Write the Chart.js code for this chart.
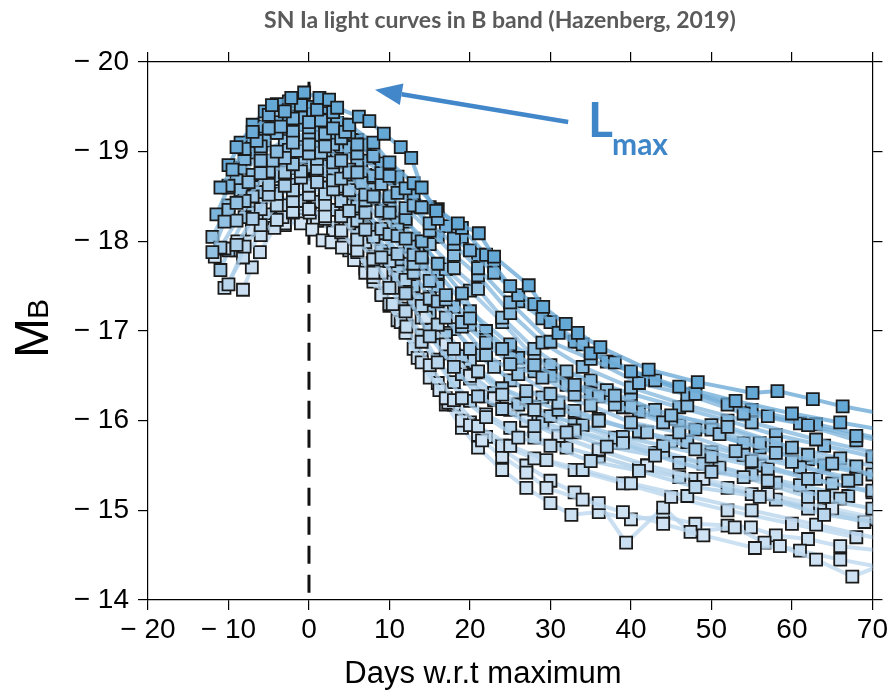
<!DOCTYPE html>
<html>
<head>
<meta charset="utf-8">
<script src="https://cdn.jsdelivr.net/npm/chart.js@4.4.1/dist/chart.umd.min.js"></script>
<style>
  body { margin: 0; background: #fff; }
  #wrap { width: 891px; height: 696px; }
</style>
</head>
<body>
<div id="wrap"><canvas id="lc" width="891" height="696"></canvas></div>
<script>
// light curves: days w.r.t. B maximum and absolute B magnitude
var days = [
  [-4.6,-2.2,-0.6,1.3,2.5,3.5,6.2,7.5,9.3,11.4,12.7,14.0,15.8,18.5,21.1,23.0,27.3,29.1,31.9,33.4,36.2,42.2,48.3,55.1,58.2,62.6,66.3,71],
  [-9,-7,-5,-3,-1,1,3,5,8,10,13,16,19,22,25,28,31,35,40,46,53,60,66,71],
  [-11,-9.5,-8,-6.5,-5,-3.5,-2,0,1.5,3,4.5,6,8,10,12,14,16,18,20,23,26,30,34,38,43,48,52,57,62,68,72],
  [-6,-4,-2,0,2,4,6,8,10,12,14,17,20,24,28,33,38,45,52,60],
  [-10,-8,-6,-4,-2,0,2,4,6,9,11,13,15,18,21,25,30,35,41,47,54,61,68],
  [-12,-10.5,-9,-7.5,-6,-4.5,-3,-1.5,0,1.5,3,5,7,9,11,13,15,17,19,22,25,29,33,38,44,51,58,65,72],
  [-8,-5,-2,1,4,7,10,13,16,19,22,26,30,35,40,46,53,60,67],
  [-11,-9,-7,-5,-3,-1,1,3,5,7,9,11,13,15,17,20,23,27,31,36,42,48,55,62,70],
  [-9,-7,-5,-3,-1,1,3,5,7,9,12,15,18,21,24,28,32,37,43,50,57,64],
  [-6,-4,-2,0,2,4,6,8,10,12,14,16,18,21,24,28,33,39,46,54,62,70],
  [-10,-8,-6,-4,-2,0,2,4,6,8,10,12,14,16,19,22,26,30,35,41,48,56,64,71],
  [-10.5,-8.2,-6,-4,-2,0,2,4,6,8,10.4,12.1,15,18,21,25,29.5,34,40,47,55,63,71],
  [-8.2,-7.1,-6.1,-4.3,-3.3,-2,0.1,2,4,6,8,10,12,14,17,20,24,28,33,39,45,52,60,68],
  [-11.7,-10.5,-8.9,-7.1,-5,-3,-1,0.4,1.7,2.8,4.1,5.6,7.9,9,10.4,12.1,14.5,17,20,23,27,31,36,42,49,57,65,72],
  [-7,-5.5,-4,-2.5,-1,0.5,2,3.5,5,7,9,11,13,15,17,19,21,23,26,29,33,37,42,48,55,63,71],
  [-5,-3,-1,1,3,5,7,9,11,13,15,17,19,21,24,27,31,36,41,47,54,61,68],
  [-10,-8.5,-7,-5.5,-4,-2.5,-1,0.5,2,3.5,5,6.5,8,9.5,11,12.5,14,16,18,20,22,25,28,32,36,40,45,50,56,62,68],
  [-11,-10,-8,-6,-4,-2,0,2,4,6,8,10,12,14,16,18,20,23,26,30,34,39,44,50,57,65,72],
  [-9,-6,-3,0,3,6,9,12,15,18,21,25,29,34,40,47,55,63,71],
  [-4,-2,0,2,5,8,11,14,17,20,24,28,33,38,44,51,58,66],
  [-7,-5,-3,-1,1,3,5,7,9,11,13,15,17,19,22,25,29,33,38,43,49,55,61,67],
  [-3,-1,1,3,5,7,9,11.4,13.5,16.2,17.3,19,21,21.5,24,27,29.5,34,39,44,49,55.4,58.5,63,67.5,72],
  [-11.5,-10,-8.5,-7,-5.5,-4,-2.5,-1,0.5,2,3.5,5,6.5,8,10,12,14,16,19,22,26,30,35,41,48,56,64,72],
  [-9,-7,-5,-3,-1,1,3,5,7,9,11,14,17,20,23,27,31,36,42,48,55,62,69],
  [-12,-10,-8,-6,-4,-2,0,2,4,6,8,10,12,15,18,21,24,28,32,37,43,50,58,66,72],
  [-6,-4,-2,0,2,4,6,8,10,12,14,16,18,20,22,25,28,32,36,41,46,52,58,64,70],
  [-10,-7,-4,-1,2,5,8,11,14,17,20,24,28,33,39,46,54,62,70],
  [-3,0,3,6,9,12,15,18,21,25,29,33,36,41,45,50,56,63,70],
  [-2,0,2,4,6,8,10,12,14,16,18,20,22,24,27,30,33,36,39.4,44,47.4,52.9,56.6,61,66,72],
  [-2,1,4,7,10,13,16,20,25,30,35,40,46,52,58,64,70],
  [-10,-8.5,-7,-5.5,-4,-2.5,-1,0.5,2,4,6,8,10,13,16],
  [-1,1,3,5,7,9,11,13,15,17,19,21,24,27,30,32.6,36,40,44,48,52,54.9,58,62,66,71]
];
var mags = [
  [-19.52,-19.6,-19.66,-19.6,-19.58,-19.49,-19.39,-19.34,-19.2,-19.05,-18.93,-18.6,-18.34,-18.2,-18.09,-17.83,-17.51,-17.27,-17.08,-16.98,-16.82,-16.57,-16.43,-16.31,-16.33,-16.24,-16.16,-16.08],
  [-19.05,-19.22,-19.41,-19.45,-19.52,-19.47,-19.44,-19.3,-19.1,-18.88,-18.65,-18.36,-18.15,-17.85,-17.5,-17.3,-16.98,-16.75,-16.55,-16.38,-16.22,-16.08,-15.98,-15.9],
  [-18.6,-18.8,-19.03,-19.12,-19.26,-19.28,-19.37,-19.33,-19.35,-19.26,-19.22,-19.08,-18.95,-18.73,-18.59,-18.38,-18.25,-18.03,-17.9,-17.65,-17.4,-17.1,-16.85,-16.65,-16.45,-16.3,-16.18,-16.05,-15.95,-15.83,-15.76],
  [-18.9,-19.0,-19.1,-19.08,-19.06,-18.9,-18.77,-18.5,-18.32,-18.03,-17.82,-17.4,-17.14,-16.8,-16.62,-16.4,-16.28,-16.06,-15.93,-15.7],
  [-18.62,-18.92,-19.06,-19.21,-19.22,-19.27,-19.2,-19.15,-18.98,-18.76,-18.54,-18.4,-18.2,-17.97,-17.7,-17.32,-16.88,-16.69,-16.42,-16.29,-16.08,-15.97,-15.78],
  [-17.88,-18.22,-18.43,-18.66,-18.76,-18.9,-18.93,-19.01,-18.98,-18.99,-18.88,-18.77,-18.52,-18.34,-18.06,-17.85,-17.56,-17.35,-17.1,-16.87,-16.63,-16.48,-16.29,-16.18,-15.98,-15.85,-15.64,-15.52,-15.35],
  [-18.45,-18.78,-18.86,-18.92,-18.7,-18.46,-18.08,-17.75,-17.33,-17.05,-16.73,-16.52,-16.3,-16.17,-15.98,-15.87,-15.66,-15.54,-15.33],
  [-17.93,-18.23,-18.5,-18.63,-18.77,-18.78,-18.81,-18.68,-18.57,-18.32,-18.14,-17.86,-17.65,-17.36,-17.15,-16.8,-16.6,-16.33,-16.2,-16.0,-15.87,-15.68,-15.55,-15.35,-15.22],
  [-17.96,-18.25,-18.52,-18.62,-18.71,-18.66,-18.58,-18.34,-18.13,-17.82,-17.42,-16.94,-16.6,-16.27,-16.13,-15.94,-15.87,-15.71,-15.61,-15.43,-15.33,-15.15],
  [-18.36,-18.53,-18.57,-18.62,-18.53,-18.45,-18.23,-18.05,-17.78,-17.57,-17.28,-17.07,-16.8,-16.55,-16.29,-16.12,-15.89,-15.75,-15.53,-15.37,-15.15,-15.02],
  [-17.52,-17.94,-18.18,-18.4,-18.45,-18.52,-18.41,-18.28,-18.02,-17.8,-17.48,-17.22,-16.88,-16.65,-16.25,-16.04,-15.81,-15.72,-15.55,-15.44,-15.26,-15.15,-14.95,-14.86],
  [-17.48,-17.82,-18.07,-18.24,-18.33,-18.36,-18.28,-18.12,-17.9,-17.65,-17.3,-17.05,-16.62,-16.23,-15.94,-15.72,-15.56,-15.45,-15.3,-15.16,-15.0,-14.84,-14.68],
  [-17.46,-17.71,-17.88,-18.15,-18.27,-18.32,-18.32,-18.25,-18.1,-17.88,-17.6,-17.3,-16.98,-16.65,-16.25,-15.95,-15.72,-15.58,-15.45,-15.3,-15.15,-15.0,-14.85,-14.7],
  [-17.83,-17.92,-18.0,-18.13,-18.18,-18.2,-18.2,-18.13,-18.01,-17.99,-17.93,-17.79,-17.76,-17.65,-17.48,-17.42,-17.15,-16.85,-16.5,-16.25,-16.0,-15.83,-15.68,-15.5,-15.35,-15.18,-15.02,-14.88],
  [-19.13,-19.28,-19.33,-19.4,-19.38,-19.42,-19.36,-19.32,-19.2,-19.08,-18.87,-18.72,-18.51,-18.38,-18.17,-18.05,-17.85,-17.72,-17.33,-17.14,-16.88,-16.66,-16.46,-16.3,-16.12,-15.96,-15.8],
  [-18.75,-18.89,-18.94,-18.93,-18.81,-18.61,-18.36,-18.09,-17.8,-17.5,-17.21,-16.95,-16.72,-16.54,-16.36,-16.25,-16.12,-16.0,-15.88,-15.76,-15.62,-15.48,-15.35],
  [-18.35,-18.57,-18.74,-18.87,-18.96,-19.02,-19.05,-19.05,-19.0,-18.92,-18.8,-18.65,-18.48,-18.31,-18.13,-17.94,-17.75,-17.5,-17.27,-17.07,-16.9,-16.7,-16.55,-16.4,-16.27,-16.15,-16.02,-15.9,-15.75,-15.62,-15.49],
  [-17.68,-17.9,-18.27,-18.55,-18.73,-18.82,-18.85,-18.78,-18.61,-18.39,-18.13,-17.85,-17.55,-17.25,-16.98,-16.73,-16.52,-16.31,-16.18,-16.05,-15.95,-15.82,-15.72,-15.6,-15.46,-15.3,-15.16],
  [-18.68,-18.98,-19.12,-19.15,-19.08,-18.9,-18.64,-18.37,-18.12,-17.85,-17.62,-17.2,-16.87,-16.6,-16.37,-16.17,-15.98,-15.79,-15.63],
  [-18.56,-18.63,-18.65,-18.6,-18.4,-18.08,-17.73,-17.35,-16.98,-16.67,-16.36,-16.15,-15.96,-15.81,-15.65,-15.48,-15.31,-15.13],
  [-18.32,-18.55,-18.69,-18.74,-18.73,-18.61,-18.41,-18.16,-17.89,-17.6,-17.3,-17.01,-16.75,-16.52,-16.27,-16.12,-15.98,-15.87,-15.75,-15.64,-15.52,-15.4,-15.28,-15.16],
  [-18.18,-18.24,-18.23,-18.1,-17.9,-17.65,-17.4,-17.1,-16.7,-16.34,-16.2,-16.0,-15.84,-15.78,-15.6,-15.42,-15.25,-15.12,-14.98,-14.85,-14.72,-14.58,-14.6,-14.45,-14.26,-14.42],
  [-18.3,-18.6,-18.82,-18.99,-19.12,-19.21,-19.27,-19.3,-19.3,-19.25,-19.17,-19.05,-18.9,-18.73,-18.5,-18.25,-18.0,-17.75,-17.42,-17.0,-16.7,-16.5,-16.3,-16.1,-15.9,-15.7,-15.5,-15.35],
  [-17.9,-18.14,-18.3,-18.4,-18.45,-18.44,-18.35,-18.2,-17.99,-17.77,-17.53,-17.15,-16.78,-16.47,-16.23,-16.0,-15.83,-15.67,-15.5,-15.35,-15.18,-15.02,-14.87],
  [-18.05,-18.4,-18.65,-18.83,-18.94,-18.99,-19.0,-18.97,-18.88,-18.75,-18.58,-18.4,-18.22,-17.97,-17.7,-17.47,-17.15,-16.8,-16.55,-16.34,-16.12,-15.95,-15.75,-15.58,-15.45],
  [-18.25,-18.43,-18.52,-18.55,-18.48,-18.31,-18.09,-17.83,-17.55,-17.25,-16.95,-16.68,-16.43,-16.22,-16.07,-15.92,-15.81,-15.7,-15.6,-15.47,-15.37,-15.25,-15.12,-15.0,-14.9],
  [-18.3,-18.65,-18.84,-18.9,-18.87,-18.72,-18.48,-18.21,-17.95,-17.69,-17.45,-17.1,-16.7,-16.4,-16.15,-15.95,-15.75,-15.57,-15.4],
  [-18.75,-18.8,-18.7,-18.45,-18.12,-17.75,-17.38,-17.02,-16.73,-16.45,-16.26,-16.11,-16.02,-15.87,-15.77,-15.65,-15.5,-15.35,-15.2],
  [-18.27,-18.3,-18.23,-18.05,-17.82,-17.55,-17.28,-17.0,-16.7,-16.42,-16.18,-15.98,-15.82,-15.68,-15.5,-15.33,-15.2,-15.08,-14.64,-15.03,-14.76,-14.81,-14.64,-14.55,-14.45,-14.35],
  [-19.18,-19.19,-19.03,-18.74,-18.4,-18.03,-17.65,-17.22,-16.85,-16.62,-16.45,-16.3,-16.15,-16.0,-15.84,-15.72,-15.6],
  [-18.85,-19.1,-19.3,-19.45,-19.53,-19.56,-19.55,-19.5,-19.43,-19.3,-19.13,-18.93,-18.7,-18.38,-18.05],
  [-18.28,-18.27,-18.15,-17.95,-17.7,-17.42,-17.12,-16.8,-16.48,-16.18,-15.92,-15.7,-15.45,-15.25,-15.08,-14.95,-14.98,-14.9,-14.93,-14.85,-14.83,-14.81,-14.72,-14.68,-14.6,-14.55]
];
var xTicks = [-20, -10, 0, 10, 20, 30, 40, 50, 60, 70];
var yTicks = [-20, -19, -18, -17, -16, -15, -14];
var maxLine = [[0, -19.78], [0, -14]];

function mix(a, b, t) {
  return [0, 1, 2].map(function (k) { return Math.round(a[k] + (b[k] - a[k]) * t); });
}

var datasets = [];
for (var i = 0; i < days.length; i++) {
  var pts = [];
  for (var j = 0; j < days[i].length; j++) {
    pts.push({x: days[i][j], y: mags[i][j]});
  }
  var peak = Math.min.apply(null, mags[i]);
  var t = Math.max(0, Math.min(1, (-peak - 18.2) / 1.4));
  var f = mix([210, 228, 244], [100, 168, 214], t);
  var l = mix([190, 216, 238], [100, 166, 212], t);
  datasets.push({
    data: pts,
    borderColor: 'rgba(' + l.join(',') + ',0.75)',
    borderWidth: 4,
    backgroundColor: 'rgb(' + f.join(',') + ')',
    pointStyle: 'rect',
    pointRadius: 8.5,
    pointBorderWidth: 1.8,
    pointBorderColor: '#1b1b1b',
    pointBackgroundColor: 'rgb(' + f.join(',') + ')',
    tension: 0,
    clip: 0
  });
  if (i == 14) {
    datasets.push({
      data: maxLine.map(function (p) { return {x: p[0], y: p[1]}; }),
      borderColor: '#111',
      borderWidth: 3,
      borderDash: [18, 11],
      pointRadius: 0,
      clip: 0
    });
  }
}

function fmt(v) {
  return (v < 0 ? '\u2212 ' : '') + Math.abs(v);
}

var tickFont = {family: '"Liberation Sans", Arial, sans-serif', size: 28};
var gridOpts = {drawOnChartArea: false, drawTicks: true, tickLength: 10, color: '#000', lineWidth: 1.2};
var borderOpts = {display: true, color: '#000', width: 1.2};

var extras = {
  id: 'extras',
  afterDraw: function (chart) {
    var ctx = chart.ctx;
    var xs = chart.scales.x, ys = chart.scales.y;
    ctx.save();
    // title
    ctx.fillStyle = '#5a5a5a';
    ctx.font = 'bold 23px Lato, sans-serif';
    ctx.textAlign = 'center';
    ctx.textBaseline = 'alphabetic';
    ctx.fillText('SN Ia light curves in B band (Hazenberg, 2019)', 500, 28);
    // x axis title
    ctx.fillStyle = '#000';
    ctx.font = '31px "Liberation Sans", Arial, sans-serif';
    ctx.fillText('Days w.r.t maximum', 483, 683);
    // y axis title M_B
    ctx.translate(48, 358);
    ctx.rotate(-Math.PI / 2);
    ctx.textAlign = 'left';
    ctx.font = '48px "Liberation Sans", Arial, sans-serif';
    ctx.fillText('M', 0, 0);
    var mw = ctx.measureText('M').width;
    ctx.font = '30px "Liberation Sans", Arial, sans-serif';
    ctx.fillText('B', mw - 1, 0);
    ctx.restore();

    // arrow pointing at the maximum
    ctx.save();
    var x0 = xs.getPixelForValue(32.2), y0 = ys.getPixelForValue(-19.33);
    var x1 = xs.getPixelForValue(8.2), y1 = ys.getPixelForValue(-19.69);
    var ang = Math.atan2(y1 - y0, x1 - x0);
    var hl = 27, hw = 11;
    var bx = x1 - hl * Math.cos(ang), by = y1 - hl * Math.sin(ang);
    ctx.strokeStyle = '#4287c9';
    ctx.fillStyle = '#4287c9';
    ctx.lineWidth = 4.5;
    ctx.beginPath();
    ctx.moveTo(x0, y0);
    ctx.lineTo(bx, by);
    ctx.stroke();
    ctx.beginPath();
    ctx.moveTo(x1, y1);
    ctx.lineTo(bx + hw * Math.sin(ang), by - hw * Math.cos(ang));
    ctx.lineTo(bx - hw * Math.sin(ang), by + hw * Math.cos(ang));
    ctx.closePath();
    ctx.fill();
    // L_max label
    ctx.fillStyle = '#3f86c8';
    ctx.textAlign = 'left';
    ctx.font = 'bold 48px Lato, sans-serif';
    ctx.fillText('L', 588, 137);
    ctx.font = 'bold 30px Lato, sans-serif';
    ctx.fillText('max', 612, 155);
    ctx.restore();
  }
};

new Chart(document.getElementById('lc'), {
  type: 'line',
  data: {datasets: datasets},
  options: {
    responsive: false,
    animation: false,
    devicePixelRatio: 1,
    layout: {padding: 0},
    plugins: {legend: {display: false}, tooltip: {enabled: false}},
    scales: {
      x: {
        type: 'linear', position: 'bottom', min: -20, max: 70,
        afterBuildTicks: function (s) { s.ticks = xTicks.map(function (v) { return {value: v}; }); },
        afterFit: function (s) { s.height = 96; },
        ticks: {font: tickFont, color: '#000', padding: 3, maxRotation: 0, callback: fmt},
        grid: gridOpts, border: borderOpts
      },
      x2: {
        type: 'linear', position: 'top', min: -20, max: 70,
        afterBuildTicks: function (s) { s.ticks = xTicks.map(function (v) { return {value: v}; }); },
        afterFit: function (s) { s.height = 62; },
        ticks: {display: false},
        grid: gridOpts, border: borderOpts
      },
      y: {
        type: 'linear', position: 'left', min: -20, max: -14, reverse: true,
        afterBuildTicks: function (s) { s.ticks = yTicks.map(function (v) { return {value: v}; }); },
        afterFit: function (s) { s.width = 148; },
        ticks: {font: tickFont, color: '#000', padding: 9, callback: fmt},
        grid: gridOpts, border: borderOpts
      },
      y2: {
        type: 'linear', position: 'right', min: -20, max: -14, reverse: true,
        afterBuildTicks: function (s) { s.ticks = yTicks.map(function (v) { return {value: v}; }); },
        afterFit: function (s) { s.width = 16; },
        ticks: {display: false},
        grid: gridOpts, border: borderOpts
      }
    }
  },
  plugins: [extras]
});
</script>
</body>
</html>
